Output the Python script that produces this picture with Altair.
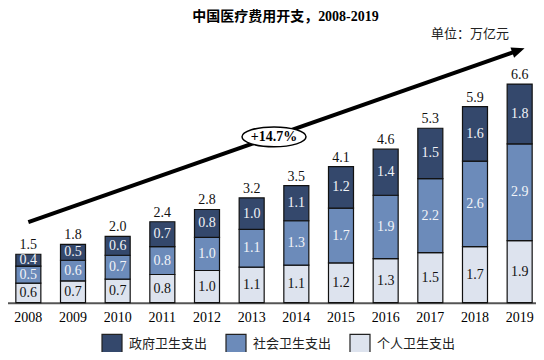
import altair as alt
import pandas as pd

years = [str(y) for y in range(2008, 2020)]
cats = ["政府卫生支出", "社会卫生支出", "个人卫生支出"]
colors = ["#34486C", "#6C8BBA", "#DDE3EE"]

# values (万亿元)
gov = [0.36, 0.48, 0.57, 0.75, 0.84, 0.95, 1.06, 1.25, 1.39, 1.52, 1.64, 1.80]
soc = [0.51, 0.62, 0.72, 0.84, 1.00, 1.14, 1.34, 1.65, 1.91, 2.23, 2.58, 2.92]
per = [0.59, 0.66, 0.71, 0.85, 0.97, 1.07, 1.13, 1.20, 1.33, 1.51, 1.69, 1.87]

# printed labels
gov_lbl = ["0.4", "0.5", "0.6", "0.7", "0.8", "1.0", "1.1", "1.2", "1.4", "1.5", "1.6", "1.8"]
soc_lbl = ["0.5", "0.6", "0.7", "0.8", "1.0", "1.1", "1.3", "1.7", "1.9", "2.2", "2.6", "2.9"]
per_lbl = ["0.6", "0.7", "0.7", "0.8", "1.0", "1.1", "1.1", "1.2", "1.3", "1.5", "1.7", "1.9"]
tot_lbl = ["1.5", "1.8", "2.0", "2.4", "2.8", "3.2", "3.5", "4.1", "4.6", "5.3", "5.9", "6.6"]

# growth arrow (start/end in data units) and CAGR label
arrow_years = ["2008", "2019"]
arrow_vals = [2.43, 7.62]
cagr_text = "+14.7%"
cagr_year = "2013"
cagr_val = 5.0

rows = []
tots = []
for i, y in enumerate(years):
    lo = 0.0
    for cat, vals, lbls in [(cats[2], per, per_lbl), (cats[1], soc, soc_lbl), (cats[0], gov, gov_lbl)]:
        hi = lo + vals[i]
        rows.append({"year": y, "cat": cat, "lo": lo, "hi": hi, "mid": (lo + hi) / 2, "label": lbls[i]})
        lo = hi
    tots.append({"year": y, "top": lo, "label": tot_lbl[i]})
df = pd.DataFrame(rows)
df_tot = pd.DataFrame(tots)
df_arrow = pd.DataFrame({"year": arrow_years, "v": arrow_vals})
df_head = pd.DataFrame({"year": [arrow_years[1]], "v": [arrow_vals[1]]})
df_cagr = pd.DataFrame({"year": [cagr_year], "v": [cagr_val], "t": [cagr_text]})
df_one = pd.DataFrame({"a": [0]})

SERIF = "Liberation Serif, Times New Roman, Noto Sans CJK SC"
CJK = "Noto Sans CJK SC"

xscale = alt.Scale(domain=years, range=[-2, 534], paddingInner=0.44, paddingOuter=0.22)
yscale = alt.Scale(domain=[0, 8.885], nice=False)

X = alt.X("year:N", scale=xscale, sort=years,
          axis=alt.Axis(title=None, labelAngle=0, labelFont=SERIF, labelFontSize=14,
                        labelColor="#000", ticks=False, domainColor="#555",
                        domainWidth=2, labelPadding=8))

bars = alt.Chart(df).mark_bar(stroke="#111", strokeWidth=1.2).encode(
    x=X,
    y=alt.Y("lo:Q", scale=yscale, axis=None),
    y2="hi:Q",
    color=alt.Color("cat:N", scale=alt.Scale(domain=cats, range=colors),
                    legend=alt.Legend(title=None, orient="none", direction="horizontal",
                                      legendX=93, legendY=325, padding=0,
                                      symbolType="square", symbolSize=400,
                                      symbolStrokeColor="#222", symbolStrokeWidth=1.2,
                                      symbolOpacity=1,
                                      labelFont=CJK, labelFontSize=13, labelColor="#222",
                                      labelOffset=6, columnPadding=15)),
)

seg_text = alt.Chart(df).mark_text(font=SERIF, fontSize=14, baseline="middle").encode(
    x=alt.X("year:N", sort=years),
    y=alt.Y("mid:Q"),
    text="label:N",
    color=alt.condition("datum.cat === '个人卫生支出'", alt.value("#111"), alt.value("#F2F4F8")),
)

tot_text = alt.Chart(df_tot).mark_text(font=SERIF, fontSize=14, baseline="middle", dy=-9, color="#111").encode(
    x=alt.X("year:N", sort=years),
    y=alt.Y("top:Q"),
    text="label:N",
)

arrow = alt.Chart(df_arrow).mark_line(color="#000", strokeWidth=4, strokeCap="butt").encode(
    x=alt.X("year:N", sort=years),
    y=alt.Y("v:Q"),
)

head = alt.Chart(df_head).mark_point(
    shape="M0.4,0L-0.6,-0.42L-0.6,0.42Z", size=676, angle=340.7,
    filled=True, color="#000", opacity=1, strokeWidth=0,
).encode(x=alt.X("year:N", sort=years), y=alt.Y("v:Q"))

ellipse = alt.Chart(df_cagr).mark_point(
    shape="M-1,0A1,0.31 0 1,1 1,0A1,0.31 0 1,1 -1,0Z", size=4096,
    filled=True, color="#fff", stroke="#000", strokeWidth=1.5, opacity=1, xOffset=22.35,
).encode(x=alt.X("year:N", sort=years), y=alt.Y("v:Q"))

cagr = alt.Chart(df_cagr).mark_text(font=SERIF, fontSize=14, fontWeight="bold", color="#000",
                                    baseline="middle", xOffset=22.35).encode(
    x=alt.X("year:N", sort=years), y=alt.Y("v:Q"), text="t:N")

title = alt.Chart(df_one).mark_text(text="中国医疗费用开支，2008-2019", font=SERIF, fontSize=14,
                                    fontWeight="bold", color="#000", align="center",
                                    baseline="middle").encode(
    x=alt.value(277.5), y=alt.value(9.5))

unit = alt.Chart(df_one).mark_text(text="单位：万亿元", font=CJK, fontSize=13, color="#222",
                                   align="right", baseline="middle").encode(
    x=alt.value(501), y=alt.value(26))

chart = alt.layer(bars, seg_text, tot_text, arrow, head, ellipse, cagr, title, unit).properties(
    width=528, height=294.7,
    autosize=alt.AutoSizeParams(type="none"),
    padding={"left": 0, "top": 0, "right": 0, "bottom": 49},
    background="#ffffff",
).configure_view(strokeWidth=0)

chart.save("out.html", embed_options={"renderer": "svg", "actions": False})
